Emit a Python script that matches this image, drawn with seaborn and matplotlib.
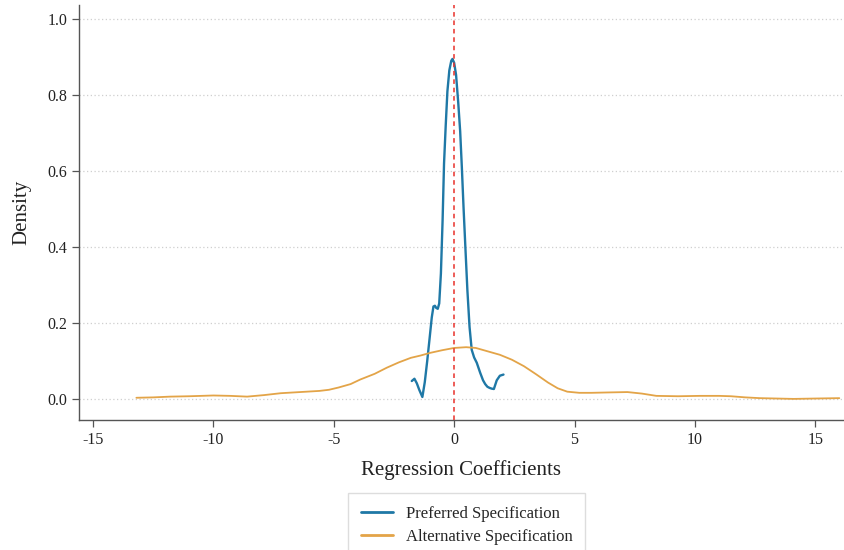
import pandas as pd
import numpy as np
import seaborn as sns
import matplotlib.pyplot as plt

# values
pref_x = [-1.76, -1.65, -1.55, -1.45, -1.32, -1.22, -1.12, -1.02, -0.93, -0.86, -0.80,
          -0.74, -0.68, -0.62, -0.55, -0.48, -0.42, -0.35, -0.28, -0.20, -0.12, -0.07,
          0.0, 0.08, 0.17, 0.25, 0.32, 0.39, 0.47, 0.55, 0.64, 0.73, 0.83, 0.94, 1.08,
          1.20, 1.29, 1.38, 1.47, 1.56, 1.65, 1.77, 1.90, 2.05]
pref_y = [0.048, 0.054, 0.042, 0.025, 0.006, 0.045, 0.100, 0.160, 0.215, 0.244, 0.246,
          0.240, 0.238, 0.252, 0.331, 0.470, 0.620, 0.720, 0.810, 0.865, 0.890, 0.895,
          0.885, 0.853, 0.780, 0.705, 0.610, 0.505, 0.395, 0.287, 0.190, 0.130, 0.110,
          0.096, 0.070, 0.050, 0.040, 0.033, 0.030, 0.028, 0.027, 0.050, 0.062, 0.065]

alt_x = [-13.2, -12.5, -11.8, -11.0, -10.0, -9.3, -8.6, -7.9, -7.2, -6.4, -5.6, -5.2,
         -4.8, -4.3, -3.9, -3.3, -2.8, -2.3, -1.8, -1.4, -1.0, -0.5, 0.0, 0.5, 0.9,
         1.4, 1.9, 2.4, 2.9, 3.4, 3.9, 4.3, 4.7, 5.2, 5.7, 6.4, 7.2, 7.8, 8.4, 9.3,
         10.2, 11.0, 11.5, 12.1, 12.7, 13.4, 14.1, 15.0, 16.0]
alt_y = [0.004, 0.005, 0.007, 0.008, 0.010, 0.009, 0.007, 0.011, 0.016, 0.019, 0.022,
         0.025, 0.031, 0.040, 0.052, 0.067, 0.083, 0.097, 0.109, 0.115, 0.122, 0.129,
         0.135, 0.137, 0.135, 0.126, 0.117, 0.104, 0.087, 0.066, 0.044, 0.029, 0.020,
         0.017, 0.017, 0.018, 0.019, 0.015, 0.009, 0.008, 0.009, 0.009, 0.008, 0.005,
         0.003, 0.002, 0.001, 0.002, 0.003]

labels = ['Preferred Specification', 'Alternative Specification']
colors = ['#1f78a6', '#e3a448']

df = pd.concat([
    pd.DataFrame({'x': pref_x, 'density': pref_y, 'spec': labels[0]}),
    pd.DataFrame({'x': alt_x, 'density': alt_y, 'spec': labels[1]}),
])

sns.set_style("white")
plt.rcParams['font.family'] = ['Liberation Serif', 'DejaVu Serif']
plt.rcParams['axes.unicode_minus'] = False

fig = plt.figure(figsize=(8.44, 5.5), dpi=100)
ax = fig.add_axes([0.094, 0.236, 0.905, 0.755])

sns.lineplot(data=df, x='x', y='density', hue='spec', hue_order=labels,
             palette=colors, sort=False, estimator=None, ax=ax, legend=False)
for line, lw in zip(ax.lines, [1.7, 1.3]):
    line.set_linewidth(lw)

ax.axvline(0, color='#e8302a', linestyle=(0, (3, 2.5)), linewidth=1.1, zorder=3)

ax.set_xlim(-15.57, 16.16)
ax.set_ylim(-0.055, 1.037)
ax.set_xticks([-15, -10, -5, 0, 5, 10, 15])
ax.set_yticks([0.0, 0.2, 0.4, 0.6, 0.8, 1.0])
ax.set_yticklabels(['0.0', '0.2', '0.4', '0.6', '0.8', '1.0'])
ax.yaxis.grid(True, linestyle=(0, (1, 2)), color='#cfcfcf', linewidth=0.9)
ax.xaxis.grid(False)

sns.despine(ax=ax)
for s in ['left', 'bottom']:
    ax.spines[s].set_color('#555555')
    ax.spines[s].set_linewidth(1.0)
ax.tick_params(axis='both', direction='out', length=5, width=0.9, color='#555555',
               labelsize=11.5, labelcolor='#222222', left=True, bottom=True)

ax.set_xlabel('Regression Coefficients', fontsize=15, color='#222222', labelpad=9)
ax.set_ylabel('Density', fontsize=15, color='#222222', labelpad=12)

handles = [plt.Line2D([], [], color=c, linewidth=2) for c in colors]
fig.legend(handles, labels, loc='upper center', bbox_to_anchor=(0.553, 0.118),
           fontsize=12, frameon=True, fancybox=False, edgecolor='#d5d5d5',
           handlelength=1.9, handletextpad=0.8, borderpad=0.75, labelspacing=0.4)

plt.savefig('out.png', dpi=100)
plt.close()
